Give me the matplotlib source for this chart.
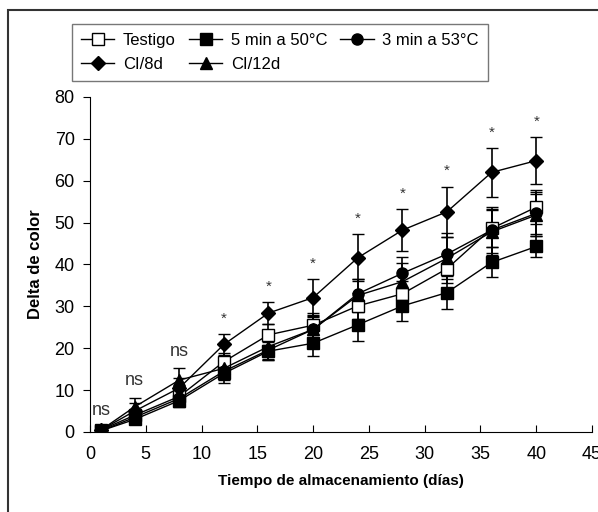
import matplotlib.pyplot as plt
from matplotlib.patches import Rectangle

plt.rcParams['font.family'] = ['Liberation Sans', 'DejaVu Sans']

# Días de almacenamiento
dias = [1, 4, 8, 12, 16, 20, 24, 28, 32, 36, 40]

# Medias de delta de color por tratamiento
testigo = [0.5, 4.0, 8.5, 16.8, 23.2, 25.5, 30.1, 33.0, 39.0, 48.6, 53.7]
min5_50 = [0.3, 3.0, 7.5, 14.0, 19.3, 21.2, 25.6, 30.1, 33.3, 40.5, 44.3]
min3_53 = [0.3, 3.5, 8.0, 14.5, 19.6, 24.5, 33.0, 37.9, 42.5, 48.2, 52.2]
ci_8d = [0.5, 5.0, 10.5, 20.9, 28.4, 32.1, 41.6, 48.2, 52.6, 62.0, 64.8]
ci_12d = [0.5, 6.0, 12.4, 15.2, 20.4, 24.5, 32.6, 35.9, 41.5, 47.8, 51.8]

# Desviaciones (barras de error)
sd_testigo = [0.4, 1.0, 1.5, 2.0, 2.5, 2.8, 3.0, 3.0, 3.5, 4.5, 4.0]
sd_min5_50 = [0.3, 0.8, 1.5, 2.4, 2.1, 3.0, 3.8, 3.5, 4.0, 3.6, 2.5]
sd_min3_53 = [0.3, 1.0, 1.8, 2.0, 2.5, 3.0, 3.5, 4.0, 5.0, 5.5, 5.0]
sd_ci_8d = [0.5, 2.0, 2.5, 2.4, 2.6, 4.5, 5.6, 5.0, 6.0, 5.8, 5.6]
sd_ci_12d = [0.4, 2.2, 2.8, 2.5, 3.0, 3.5, 4.0, 4.5, 5.0, 5.5, 5.0]

# Significancia por día
signif = ['ns', 'ns', 'ns', '*', '*', '*', '*', '*', '*', '*', '*']

fig = plt.figure(figsize=(5.98, 5.12), dpi=100)
ax = fig.add_axes([0.1505, 0.15625, 0.8395, 0.6543])

series = [
    ('Testigo', testigo, sd_testigo, 's', 'white'),
    ('5 min a 50°C', min5_50, sd_min5_50, 's', 'black'),
    ('3 min a 53°C', min3_53, sd_min3_53, 'o', 'black'),
    ('CI/8d', ci_8d, sd_ci_8d, 'D', 'black'),
    ('CI/12d', ci_12d, sd_ci_12d, '^', 'black'),
]

handles = {}
for nombre, medias, sd, marcador, relleno in series:
    h = ax.errorbar(dias, medias, yerr=sd, color='black', lw=1.0,
                    marker=marcador, markersize=8 if marcador != 'D' else 7,
                    markerfacecolor=relleno, markeredgecolor='black',
                    markeredgewidth=1.0, capsize=4, elinewidth=1.2, capthick=1.2,
                    label=nombre)
    handles[nombre] = h[0]

# Etiquetas de significancia sobre la barra más alta
for i, d in enumerate(dias):
    tope = max(s[1][i] + s[2][i] for s in series)
    ax.text(d, tope + 2.0, signif[i], ha='center', va='bottom',
            fontsize=13 if signif[i] == 'ns' else 11, color='#333333')

ax.set_xlim(0, 45)
ax.set_ylim(0, 80)
ax.set_xticks(range(0, 46, 5))
ax.set_yticks(range(0, 81, 10))
ax.spines['top'].set_visible(False)
ax.spines['right'].set_visible(False)
ax.tick_params(axis='x', direction='in', length=5, labelsize=13, pad=10)
ax.tick_params(axis='y', direction='out', length=5, labelsize=13, pad=6)
ax.set_xlabel('Tiempo de almacenamiento (días)', fontsize=11, fontweight='bold', labelpad=8)
ax.set_ylabel('Delta de color', fontsize=12, fontweight='bold', labelpad=8)

orden = ['Testigo', 'CI/8d', '5 min a 50°C', 'CI/12d', '3 min a 53°C']
leg = fig.legend([handles[n] for n in orden], orden, ncol=3, loc='upper center',
                 bbox_to_anchor=(0.468, 0.97), fontsize=12, frameon=True,
                 fancybox=False, edgecolor='#555555', handlelength=2.0,
                 handletextpad=0.5, columnspacing=0.8, labelspacing=0.55,
                 borderpad=0.55)
leg.get_frame().set_linewidth(1.0)

# Marco del recuadro de la figura
fig.add_artist(Rectangle((8 / 598, -0.2), 1.5, 1.2 - 10 / 512, transform=fig.transFigure,
                         fill=False, edgecolor='#333333', lw=1.5))

fig.savefig('out.png', dpi=100)
